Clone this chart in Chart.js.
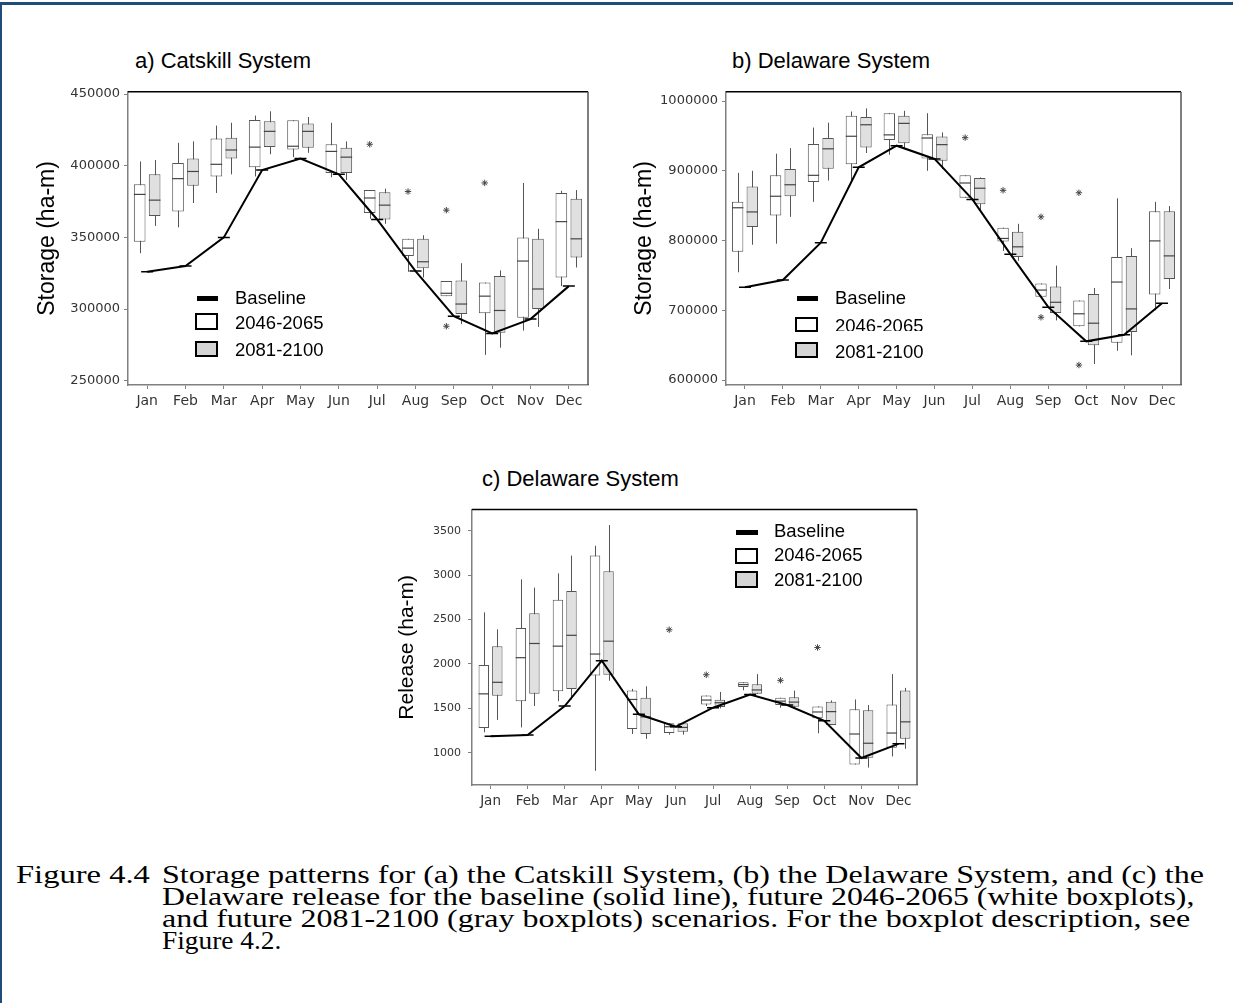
<!DOCTYPE html>
<html>
<head>
<meta charset="utf-8">
<script src="https://cdn.jsdelivr.net/npm/chart.js@4.4.0/dist/chart.umd.min.js"></script>
<style>
body { margin:0; background:#fff; width:1233px; height:1003px; position:relative; overflow:hidden; font-family:'Liberation Sans', Arial, sans-serif; }
.frameTop { position:absolute; left:0; top:2px; width:1233px; height:3px; background:#1e4d7c; }
.frameLeft { position:absolute; left:0; top:2px; width:2px; height:1001px; background:#1e4d7c; }
canvas { position:absolute; }
.title { position:absolute; font-size:22px; line-height:26px; color:#000; white-space:nowrap; }
.leg { position:absolute; font-size:18.5px; line-height:22px; color:#000; white-space:nowrap; }
.legDash { position:absolute; height:5px; background:#000; }
.legBox { position:absolute; box-sizing:border-box; border:2px solid #000; }
.clip { position:absolute; overflow:hidden; }
.cap { position:absolute; font-family:'Liberation Serif','Times New Roman',Tinos,'Nimbus Roman','FreeSerif',serif; font-size:26px; line-height:26px; color:#000; white-space:nowrap; transform-origin:0 50%; }
</style>
</head>
<body>
<div class="frameTop"></div>
<div class="frameLeft"></div>

<div class="title" style="left:135px; top:48px;">a) Catskill System</div>
<div class="title" style="left:732px; top:48px;">b) Delaware System</div>
<div class="title" style="left:482px; top:466px;">c) Delaware System</div>

<canvas id="chartA" width="570" height="337" style="left:28px; top:80px;"></canvas>
<canvas id="chartB" width="565" height="337" style="left:626px; top:80px;"></canvas>
<canvas id="chartC" width="555" height="321" style="left:372px; top:496px;"></canvas>

<!-- legend a -->
<div class="legDash" style="left:197px; top:296px; width:21px;"></div>
<div class="legBox" style="left:195px; top:313px; width:23px; height:17px; background:#fff;"></div>
<div class="legBox" style="left:195px; top:341px; width:23px; height:16px; background:#d4d4d4;"></div>
<div class="leg" style="left:235px; top:287px;">Baseline</div>
<div class="leg" style="left:235px; top:312px;">2046-2065</div>
<div class="leg" style="left:235px; top:339px;">2081-2100</div>

<!-- legend b -->
<div class="legDash" style="left:797px; top:296px; width:21px;"></div>
<div class="legBox" style="left:795px; top:317px; width:23px; height:15px; background:#fff;"></div>
<div class="legBox" style="left:795px; top:342px; width:23px; height:16px; background:#d4d4d4;"></div>
<div class="leg" style="left:835px; top:287px;">Baseline</div>
<div class="clip" style="left:835px; top:314px; width:120px; height:17px;"><div class="leg" style="left:0; top:1px;">2046-2065</div></div>
<div class="leg" style="left:835px; top:341px;">2081-2100</div>

<!-- legend c -->
<div class="legDash" style="left:736px; top:530px; width:22px;"></div>
<div class="legBox" style="left:735px; top:548px; width:23px; height:16px; background:#fff;"></div>
<div class="legBox" style="left:735px; top:571px; width:23px; height:17px; background:#d4d4d4;"></div>
<div class="leg" style="left:774px; top:520px;">Baseline</div>
<div class="leg" style="left:774px; top:544px;">2046-2065</div>
<div class="leg" style="left:774px; top:569px;">2081-2100</div>

<!-- caption -->
<div class="cap" data-w="134" style="left:16px; top:862px;">Figure 4.4</div>
<div class="cap" data-w="1042" style="left:162px; top:862px;">Storage patterns for (a) the Catskill System, (b) the Delaware System, and (c) the</div>
<div class="cap" data-w="1032" style="left:162px; top:884px;">Delaware release for the baseline (solid line), future 2046-2065 (white boxplots),</div>
<div class="cap" data-w="1028" style="left:162px; top:906px;">and future 2081-2100 (gray boxplots) scenarios. For the boxplot description, see</div>
<div class="cap" data-w="119" style="left:162px; top:928px;">Figure 4.2.</div>

<script>
// months on the x axis
const months = ['Jan','Feb','Mar','Apr','May','Jun','Jul','Aug','Sep','Oct','Nov','Dec'];

// each box: [whisker low, Q1, median, Q3, whisker high]
// a) Catskill storage (ha-m)
const catskillMid = [
    [339000, 347000, 380000, 387000, 403000],
    [357000, 368000, 391000, 402000, 416000],
    [381000, 392500, 401000, 419000, 428000],
    [392500, 399000, 413000, 432000, 435000],
    [406000, 411300, 413600, 431700, 431700],
    [392000, 395000, 410000, 415000, 430000],
    [363000, 367000, 377500, 383000, 383000],
    [326000, 337000, 342500, 349000, 349000],
    [309000, 309000, 311000, 319500, 319500],
    [268000, 297000, 309000, 318500, 318500],
    [285000, 294000, 333500, 350000, 388000],
    [316000, 322000, 361000, 381000, 382500]
];
const catskillLate = [
    [358000, 365000, 376000, 394000, 404000],
    [374000, 386000, 396000, 405000, 417000],
    [394000, 405000, 411000, 419500, 430000],
    [408000, 413000, 424000, 431000, 438000],
    [409000, 412500, 424000, 429500, 434000],
    [390000, 395000, 406000, 412500, 417000],
    [359500, 362500, 372500, 381500, 384000],
    [322000, 328500, 333000, 349000, 351500],
    [289500, 296500, 303500, 320000, 332000],
    [273000, 283500, 299000, 323000, 327000],
    [287500, 300000, 314000, 349000, 356000],
    [329000, 336000, 349000, 377000, 383000]
];
const catskillBaseline = [326000, 330000, 350000, 397000, 405000, 394000, 362500, 326500, 295000, 283000, 293000, 316000];
// outliers of the 2046-2065 boxes: [month index, value]
const catskillOutliers = [[6, 415000], [7, 382000], [8, 369000], [8, 288000], [9, 388000]];
const catskillTicks = [250000, 300000, 350000, 400000, 450000];

// b) Delaware storage (ha-m)
const delawareMid = [
    [754500, 784000, 847000, 855500, 897000],
    [795500, 836000, 863500, 893500, 924500],
    [855500, 884000, 893500, 938500, 962000],
    [885000, 909500, 949500, 979000, 985000],
    [923000, 944000, 951500, 982500, 982500],
    [900000, 917500, 947000, 952500, 982500],
    [861500, 861500, 882500, 893500, 893500],
    [785000, 798500, 803000, 818500, 818500],
    [719500, 719500, 729000, 738500, 738500],
    [677000, 677000, 695000, 714000, 714000],
    [642000, 653500, 740500, 776500, 860500],
    [700000, 722500, 799500, 842000, 855500]
];
const delawareLate = [
    [794000, 819500, 841000, 877500, 900000],
    [834000, 863500, 880000, 902500, 932500],
    [886000, 903000, 931500, 947000, 969000],
    [925500, 933500, 966000, 977000, 989500],
    [932500, 939500, 968000, 979000, 986000],
    [902500, 914500, 937500, 949000, 955000],
    [841500, 852000, 875000, 889500, 890500],
    [771000, 776500, 791000, 812500, 824000],
    [685500, 696000, 711500, 734000, 764000],
    [623000, 650000, 681500, 723500, 732000],
    [635500, 669000, 702000, 778000, 789000],
    [730500, 745000, 778000, 842000, 849500]
];
const delawareBaseline = [733000, 743500, 797000, 905000, 936000, 917000, 859000, 780500, 704500, 655500, 665000, 710000];
const delawareOutliers = [[6, 947500], [7, 872000], [8, 834000], [8, 690000], [9, 868500], [9, 621500]];
const delawareTicks = [600000, 700000, 800000, 900000, 1000000];

// c) Delaware release (ha-m)
const releaseMid = [
    [1230, 1278, 1663, 1989, 2581],
    [1285, 1581, 2070, 2404, 2952],
    [1581, 1693, 2200, 2722, 3019],
    [796, 1870, 2111, 3219, 3330],
    [1211, 1267, 1600, 1700, 1719],
    [1204, 1222, 1293, 1333, 1333],
    [1526, 1544, 1593, 1644, 1644],
    [1704, 1741, 1767, 1793, 1793],
    [1507, 1537, 1581, 1619, 1619],
    [1219, 1389, 1459, 1522, 1522],
    [867, 867, 1211, 1489, 1600],
    [959, 1056, 1222, 1544, 1885]
];
const releaseLate = [
    [1370, 1641, 1793, 2200, 2389],
    [1526, 1663, 2230, 2570, 2859],
    [1600, 1719, 2322, 2822, 3219],
    [1811, 1878, 2256, 3044, 3563],
    [1156, 1211, 1404, 1619, 1748],
    [1204, 1237, 1285, 1333, 1345],
    [1500, 1515, 1563, 1596, 1685],
    [1663, 1663, 1707, 1770, 1885],
    [1519, 1519, 1570, 1626, 1700],
    [1311, 1311, 1463, 1574, 1589],
    [833, 944, 1107, 1478, 1537],
    [1044, 1159, 1348, 1700, 1730]
];
const releaseBaseline = [1185, 1200, 1526, 2037, 1433, 1293, 1507, 1656, 1537, 1359, 941, 1100];
const releaseOutliers = [[5, 2385], [6, 1878], [8, 1815], [9, 2185]];
const releaseTicks = [1000, 1500, 2000, 2500, 3000, 3500];


// whiskers behind each box, medians and asterisk outliers on top of it
function boxExtras(midStats, lateStats, outliers) {
    const stats = [midStats, lateStats];
    return {
        id: 'boxExtras',
        beforeDatasetDraw(chart, args) {
            if (args.index > 1) return;
            const y = chart.scales.y;
            const ctx = chart.ctx;
            ctx.save();
            ctx.strokeStyle = '#555';
            ctx.lineWidth = 1;
            args.meta.data.forEach((bar, i) => {
                const s = stats[args.index][i];
                const x = Math.round(bar.x) + 0.5;
                ctx.beginPath();
                ctx.moveTo(x, y.getPixelForValue(s[0]));
                ctx.lineTo(x, y.getPixelForValue(s[4]));
                ctx.stroke();
            });
            ctx.restore();
        },
        afterDatasetDraw(chart, args) {
            if (args.index > 1) return;
            const y = chart.scales.y;
            const ctx = chart.ctx;
            ctx.save();
            ctx.strokeStyle = '#444';
            ctx.lineWidth = 1.2;
            args.meta.data.forEach((bar, i) => {
                const yy = y.getPixelForValue(stats[args.index][i][2]);
                ctx.beginPath();
                ctx.moveTo(bar.x - bar.width / 2, yy);
                ctx.lineTo(bar.x + bar.width / 2, yy);
                ctx.stroke();
            });
            if (args.index === 0) {
                ctx.strokeStyle = '#444';
                ctx.lineWidth = 1;
                outliers.forEach(o => {
                    const x = args.meta.data[o[0]].x;
                    const yy = y.getPixelForValue(o[1]);
                    for (let k = 0; k < 4; k++) {
                        const a = k * Math.PI / 4;
                        ctx.beginPath();
                        ctx.moveTo(x - 3.2 * Math.cos(a), yy - 3.2 * Math.sin(a));
                        ctx.lineTo(x + 3.2 * Math.cos(a), yy + 3.2 * Math.sin(a));
                        ctx.stroke();
                    }
                });
            }
            ctx.restore();
        }
    };
}

// black top edge and dark right edge of the plot frame
const frameEdges = {
    id: 'frameEdges',
    afterDraw(chart) {
        const a = chart.chartArea;
        const ctx = chart.ctx;
        ctx.save();
        ctx.lineWidth = 1.5;
        ctx.strokeStyle = '#000';
        ctx.beginPath();
        ctx.moveTo(a.left, a.top);
        ctx.lineTo(a.right, a.top);
        ctx.stroke();
        ctx.strokeStyle = '#555';
        ctx.beginPath();
        ctx.moveTo(a.right, a.top);
        ctx.lineTo(a.right, a.bottom);
        ctx.stroke();
        ctx.restore();
    }
};

function makePanel(id, mid, late, baseline, outliers, ticks, yMin, yMax, s) {
    const chart_data = {
        labels: months,
        datasets: [{
            type: 'bar',
            data: mid.map(b => [b[1], b[3]]),
            backgroundColor: '#ffffff',
            borderColor: '#555',
            borderWidth: 1,
            borderSkipped: false,
            categoryPercentage: s.cat,
            barPercentage: s.bar,
            order: 1
        },
        {
            type: 'bar',
            data: late.map(b => [b[1], b[3]]),
            backgroundColor: '#e0e0e0',
            borderColor: '#555',
            borderWidth: 1,
            borderSkipped: false,
            categoryPercentage: s.cat,
            barPercentage: s.bar,
            order: 1
        },
        {
            type: 'line',
            data: baseline,
            borderColor: '#000',
            borderWidth: 2,
            tension: 0,
            fill: false,
            pointStyle: 'line',
            pointRadius: 6,
            pointBorderWidth: 1.5,
            pointBorderColor: '#000',
            order: 0
        }]
    };

    const config = {
        type: 'bar',
        data: chart_data,
        options: {
            responsive: false,
            animation: false,
            layout: { padding: { top: 10, right: 10, left: 0, bottom: 0 } },
            plugins: { legend: { display: false }, tooltip: { enabled: false } },
            scales: {
                x: {
                    afterFit: sc => { sc.height = 32; },
                    border: { display: true, color: '#808080', width: 1.5 },
                    grid: { display: true, drawOnChartArea: false, offset: false, drawTicks: true, tickLength: 4, color: '#808080' },
                    ticks: { color: '#333', font: { family: 'DejaVu Sans', size: s.xFont }, padding: s.xPad, maxRotation: 0, autoSkip: false }
                },
                y: {
                    min: yMin,
                    max: yMax,
                    afterBuildTicks: sc => { sc.ticks = ticks.map(v => ({ value: v })); },
                    afterFit: sc => { sc.width = 100; },
                    border: { display: true, color: '#808080', width: 1.5 },
                    grid: { display: true, drawOnChartArea: false, drawTicks: true, tickLength: 4, color: '#808080' },
                    ticks: { color: '#333', font: { family: 'DejaVu Sans', size: s.yFont }, padding: s.yPad, autoSkip: false, callback: v => String(v) },
                    title: { display: true, text: s.title, color: '#000', font: { family: "'Liberation Sans', Arial, sans-serif", size: s.titleFont }, padding: { top: s.titlePad, bottom: 0 } }
                }
            }
        },
        plugins: [boxExtras(mid, late, outliers), frameEdges]
    };

    return new Chart(document.getElementById(id), config);
}

makePanel('chartA', catskillMid, catskillLate, catskillBaseline, catskillOutliers, catskillTicks, 247000, 451600,
    { cat: 0.78, bar: 0.78, xFont: 14, xPad: 4, yFont: 13, yPad: 4, title: 'Storage (ha-m)', titleFont: 23, titlePad: 6.2 });
makePanel('chartB', delawareMid, delawareLate, delawareBaseline, delawareOutliers, delawareTicks, 592900, 1013250,
    { cat: 0.77, bar: 0.78, xFont: 14, xPad: 4, yFont: 13, yPad: 4, title: 'Storage (ha-m)', titleFont: 23, titlePad: 5.2 });
makePanel('chartC', releaseMid, releaseLate, releaseBaseline, releaseOutliers, releaseTicks, 637, 3737,
    { cat: 0.73, bar: 0.77, xFont: 13.5, xPad: 4.5, yFont: 11, yPad: 7, title: 'Release (ha-m)', titleFont: 21, titlePad: 23 });

// stretch caption lines to the widths they have in the figure
document.querySelectorAll('.cap').forEach(el => {
    const w = +el.dataset.w;
    el.style.transform = 'scaleX(' + (w / el.offsetWidth) + ')';
});
</script>
</body>
</html>
